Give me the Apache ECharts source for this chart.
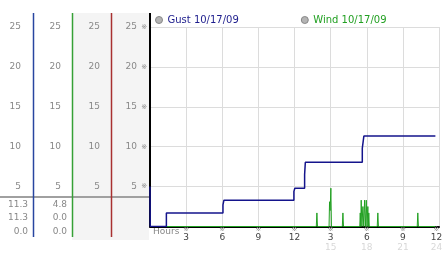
<!DOCTYPE html>
<html><head><meta charset="utf-8">
<script src="https://cdn.jsdelivr.net/npm/echarts@6/dist/echarts.min.js"></script>
<style>html,body{margin:0;padding:0;background:#fff}#c{width:442px;height:253px}</style>
</head><body><div id="c"></div>
<script>
const seriesNames = ['Gust 10/17/09', 'Wind 10/17/09'];
const gustHours  = [0, 0.02, 1.36, 1.36, 6.06, 6.06, 6.14, 6.14, 11.95, 11.95, 12.03, 12.03, 12.84, 12.84, 12.9, 12.9, 17.63, 17.63, 17.76, 17.76, 23.7];
const gustValues = [5.0, 0, 0, 1.7, 1.7, 2.7, 2.7, 3.3, 3.3, 4.4, 4.4, 4.8, 4.8, 6.5, 6.5, 8.05, 8.05, 9.8, 9.8, 11.33, 11.33];
const windHours  = [0, 13.81, 13.86, 13.91, 14.87, 14.91, 14.96, 15.02, 15.07, 15.97, 16.02, 16.07, 17.42, 17.46, 17.5, 17.54, 17.6, 17.68, 17.75, 17.82, 17.89, 17.96, 18.02, 18.09, 18.13, 18.17, 18.21, 18.87, 18.92, 18.97, 22.19, 22.24, 22.29, 23.7];
const windValues = [0, 0, 1.7, 0, 0, 3.1, 2.0, 4.8, 0, 0, 1.7, 0, 0, 1.7, 0, 3.3, 0, 2.5, 0, 3.3, 0, 3.3, 0, 2.5, 0, 1.7, 0, 0, 1.7, 0, 0, 1.7, 0, 0];
const xTopLabels = ['', '3', '6', '9', '12', '3', '6', '9', '12'];
const xSubLabels = ['', '', '', '', '', '15', '18', '21', '24'];
const yLabels = ['', '5', '10', '15', '20', '25'];
const gustStats = ['11.3', '11.3', '0.0'];
const windStats = ['4.8', '0.0', '0.0'];
const xAxisTitle = 'Hours';

const FONT = 'DejaVu Sans';
const MARK_FONT = 'DejaVu Sans, Noto Sans CJK SC';
const chart = echarts.init(document.getElementById('c'));

function yAxisCfg(offset, margin, fmt, extra) {
  return Object.assign({
    type: 'value', min: 0, max: 25, interval: 5, position: 'left', offset: offset,
    axisLine: { show: false }, axisTick: { show: false }, splitLine: { show: false },
    axisLabel: { margin: margin, color: '#888', fontSize: 9, fontFamily: FONT, formatter: fmt }
  }, extra || {});
}
const numFmt = v => yLabels[Math.round(v / 5)] || '';
const markFmt = v => (yLabels[Math.round(v / 5)] ? '※' : '');

const statRowsY = [204.5, 218, 231.3];
const graphics = [
  { type: 'rect', shape: { x: 72, y: 13, width: 77, height: 227 }, style: { fill: '#f4f4f4' }, z: -10 },
  { type: 'line', shape: { x1: 0, y1: 197, x2: 149, y2: 197 }, style: { stroke: '#a0a0a0', lineWidth: 2 }, z: -5 },
  { type: 'line', shape: { x1: 33.5, y1: 13, x2: 33.5, y2: 237 }, style: { stroke: '#2846a0', lineWidth: 1.5 } },
  { type: 'line', shape: { x1: 72.5, y1: 13, x2: 72.5, y2: 237 }, style: { stroke: '#36a036', lineWidth: 1.5 } },
  { type: 'line', shape: { x1: 111.5, y1: 13, x2: 111.5, y2: 237 }, style: { stroke: '#a83030', lineWidth: 1.5 } },
  { type: 'line', shape: { x1: 150, y1: 13, x2: 150, y2: 28 }, style: { stroke: '#000', lineWidth: 2 } },
  { type: 'text', x: 153, y: 231.5, style: { text: xAxisTitle, fill: '#888', fontSize: 9, fontFamily: FONT, align: 'left', verticalAlign: 'middle' } }
];
gustStats.forEach((t, i) => graphics.push({ type: 'text', x: 28, y: statRowsY[i], style: { text: t, fill: '#888', fontSize: 9, fontFamily: FONT, align: 'right', verticalAlign: 'middle' } }));
windStats.forEach((t, i) => graphics.push({ type: 'text', x: 67, y: statRowsY[i], style: { text: t, fill: '#888', fontSize: 9, fontFamily: FONT, align: 'right', verticalAlign: 'middle' } }));

const PADR = [0, 5, 0, 0];
chart.setOption({
  animation: false,
  backgroundColor: '#fff',
  grid: { left: 150, right: 3, top: 27, bottom: 26.5, containLabel: false, outerBoundsMode: 'none' },
  legend: {
    left: 155, top: 15, padding: 0, itemWidth: 7, itemHeight: 7, itemGap: 62, icon: 'circle',
    textStyle: { fontSize: 10, fontFamily: FONT },
    data: [
      { name: seriesNames[0], itemStyle: { color: '#b4b4b4', borderColor: '#888', borderWidth: 1 }, textStyle: { color: '#1c1c8c' } },
      { name: seriesNames[1], itemStyle: { color: '#b4b4b4', borderColor: '#888', borderWidth: 1 }, textStyle: { color: '#22a022' } }
    ]
  },
  xAxis: {
    type: 'value', min: 0, max: 24, interval: 3,
    axisLine: { show: true, lineStyle: { color: '#000', width: 2 } },
    axisTick: { show: false },
    splitLine: { show: true, lineStyle: { color: '#dcdcdc', width: 1 } },
    axisLabel: {
      margin: 0, fontFamily: FONT, hideOverlap: false,
      formatter: v => {
        const i = Math.round(v / 3);
        if (!xTopLabels[i]) return '';
        const k = i === xTopLabels.length - 1 ? '2' : '';
        let s = '{m' + k + '|※}\n{v' + k + '|' + xTopLabels[i] + '}';
        if (xSubLabels[i]) s += '\n{f' + k + '|' + xSubLabels[i] + '}';
        return s;
      },
      rich: {
        m: { fontSize: 7, color: '#888', lineHeight: 6, fontFamily: MARK_FONT },
        v: { fontSize: 9, color: '#444', lineHeight: 10, fontFamily: FONT },
        f: { fontSize: 9, color: '#d8d8d8', lineHeight: 11, fontFamily: FONT },
        m2: { fontSize: 7, color: '#888', lineHeight: 6, fontFamily: MARK_FONT, padding: PADR },
        v2: { fontSize: 9, color: '#444', lineHeight: 10, fontFamily: FONT, padding: PADR },
        f2: { fontSize: 9, color: '#d8d8d8', lineHeight: 11, fontFamily: FONT, padding: PADR }
      }
    }
  },
  yAxis: [
    yAxisCfg(0, 13, numFmt, {
      axisLine: { show: true, lineStyle: { color: '#000', width: 2 } },
      splitLine: { show: true, lineStyle: { color: '#dcdcdc', width: 1 } }
    }),
    yAxisCfg(0, 3, markFmt, { axisLabel: { margin: 3, color: '#888', fontSize: 7, fontFamily: MARK_FONT, formatter: markFmt } }),
    yAxisCfg(39, 11, numFmt),
    yAxisCfg(78, 11, numFmt),
    yAxisCfg(117, 12, numFmt)
  ],
  graphic: graphics,
  series: [
    {
      name: seriesNames[1], type: 'line', yAxisIndex: 0, symbol: 'none', z: 3,
      lineStyle: { color: '#22a022', width: 1 }, itemStyle: { color: '#22a022' },
      data: windHours.map((h, i) => [h, windValues[i]])
    },
    {
      name: seriesNames[0], type: 'line', yAxisIndex: 0, symbol: 'none', z: 4,
      lineStyle: { color: '#14148c', width: 1.5 }, itemStyle: { color: '#14148c' },
      data: gustHours.map((h, i) => [h, gustValues[i]])
    }
  ]
});
</script></body></html>
